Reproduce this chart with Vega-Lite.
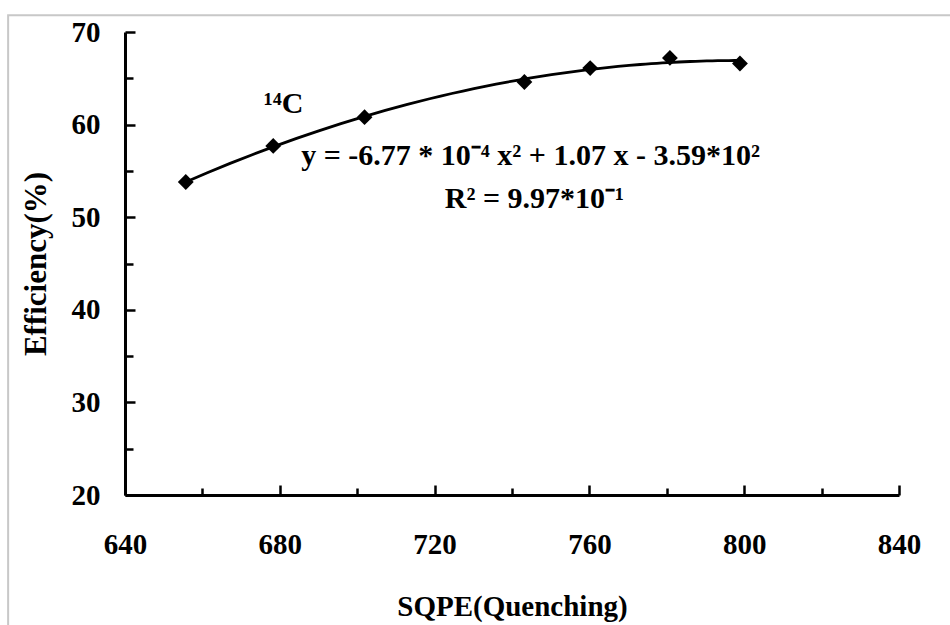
{
  "$schema": "https://vega.github.io/schema/vega-lite/v6.json",
  "autosize": "none",
  "width": 774,
  "height": 463,
  "padding": {"left": 125, "top": 32, "right": 51, "bottom": 130},
  "background": "white",
  "config": {"view": {"stroke": null}, "font": "Liberation Serif"},
  "datasets": {
    "pts": [
      {"sqpe": 655.7, "eff": 53.8},
      {"sqpe": 678.3, "eff": 57.7},
      {"sqpe": 701.9, "eff": 60.8},
      {"sqpe": 743.2, "eff": 64.6},
      {"sqpe": 760.2, "eff": 66.1},
      {"sqpe": 780.8, "eff": 67.2},
      {"sqpe": 798.9, "eff": 66.6}
    ],
    "notes": [
      {"sqpe": 744.8, "eff": 56.6, "label": "y = -6.77 * 10⁻⁴ x² + 1.07 x - 3.59*10²"},
      {"sqpe": 745.8, "eff": 52.0, "label": "R² = 9.97*10⁻¹"},
      {"sqpe": 681.0, "eff": 62.2, "label": "¹⁴C"}
    ],
    "frame": [{"x1": 609.8, "x2": 880, "y1": 71.8, "y2": 0}]
  },
  "layer": [
    {
      "data": {"name": "frame"},
      "mark": {"type": "rect", "fill": null, "stroke": "#c8c8c8", "strokeWidth": 2, "clip": false},
      "encoding": {
        "x": {"field": "x1", "type": "quantitative", "axis": null},
        "x2": {"field": "x2"},
        "y": {"field": "y1", "type": "quantitative", "axis": null},
        "y2": {"field": "y2"}
      }
    },
    {
      "data": {"name": "pts"},
      "transform": [{"regression": "eff", "on": "sqpe", "method": "poly", "order": 2}],
      "mark": {"type": "line", "color": "black", "strokeWidth": 2.8, "clip": false},
      "encoding": {
        "x": {
          "field": "sqpe", "type": "quantitative",
          "scale": {"domain": [640, 840], "nice": false, "zero": false},
          "axis": {
            "orient": "bottom",
            "values": [640, 680, 720, 760, 800, 840],
            "grid": false,
            "domainColor": "black", "domainWidth": 3,
            "tickColor": "black", "tickWidth": 2.5, "tickSize": -10,
            "labelFont": "Liberation Serif", "labelFontSize": 29, "labelFontWeight": "bold", "labelColor": "black",
            "labelPadding": 45, "labelFlush": false, "labelOverlap": false,
            "title": "SQPE(Quenching)",
            "titleFont": "Liberation Serif", "titleFontSize": 29, "titleFontWeight": "bold", "titleColor": "black",
            "titlePadding": 33
          }
        },
        "y": {
          "field": "eff", "type": "quantitative",
          "scale": {"domain": [20, 70], "nice": false, "zero": false},
          "axis": {
            "orient": "left",
            "values": [20, 30, 40, 50, 60, 70],
            "grid": false,
            "domainColor": "black", "domainWidth": 3,
            "tickColor": "black", "tickWidth": 2.5, "tickSize": -10,
            "labelFont": "Liberation Serif", "labelFontSize": 29, "labelFontWeight": "bold", "labelColor": "black",
            "labelPadding": 35, "labelFlush": false, "labelOverlap": false,
            "title": "Efficiency(%)",
            "titleFont": "Liberation Serif", "titleFontSize": 31, "titleFontWeight": "bold", "titleColor": "black",
            "titlePadding": 19
          }
        }
      }
    },
    {
      "data": {"name": "pts"},
      "mark": {"type": "point", "shape": "diamond", "filled": true, "color": "black", "size": 250, "opacity": 1},
      "encoding": {
        "x": {
          "field": "sqpe", "type": "quantitative",
          "axis": {
            "orient": "bottom",
            "values": [660, 700, 740, 780, 820],
            "grid": false, "domain": false, "labels": false, "title": null,
            "tickColor": "black", "tickWidth": 2.5, "tickSize": -7
          }
        },
        "y": {
          "field": "eff", "type": "quantitative",
          "axis": {
            "orient": "left",
            "values": [25, 35, 45, 55, 65],
            "grid": false, "domain": false, "labels": false, "title": null,
            "tickColor": "black", "tickWidth": 2.5, "tickSize": -8
          }
        }
      }
    },
    {
      "data": {"name": "notes"},
      "mark": {"type": "text", "font": "Liberation Serif", "fontSize": 30, "fontWeight": "bold", "color": "black", "align": "center", "baseline": "middle"},
      "encoding": {
        "x": {"field": "sqpe", "type": "quantitative", "axis": null},
        "y": {"field": "eff", "type": "quantitative", "axis": null},
        "text": {"field": "label"}
      }
    }
  ],
  "resolve": {"axis": {"x": "independent", "y": "independent"}}
}
